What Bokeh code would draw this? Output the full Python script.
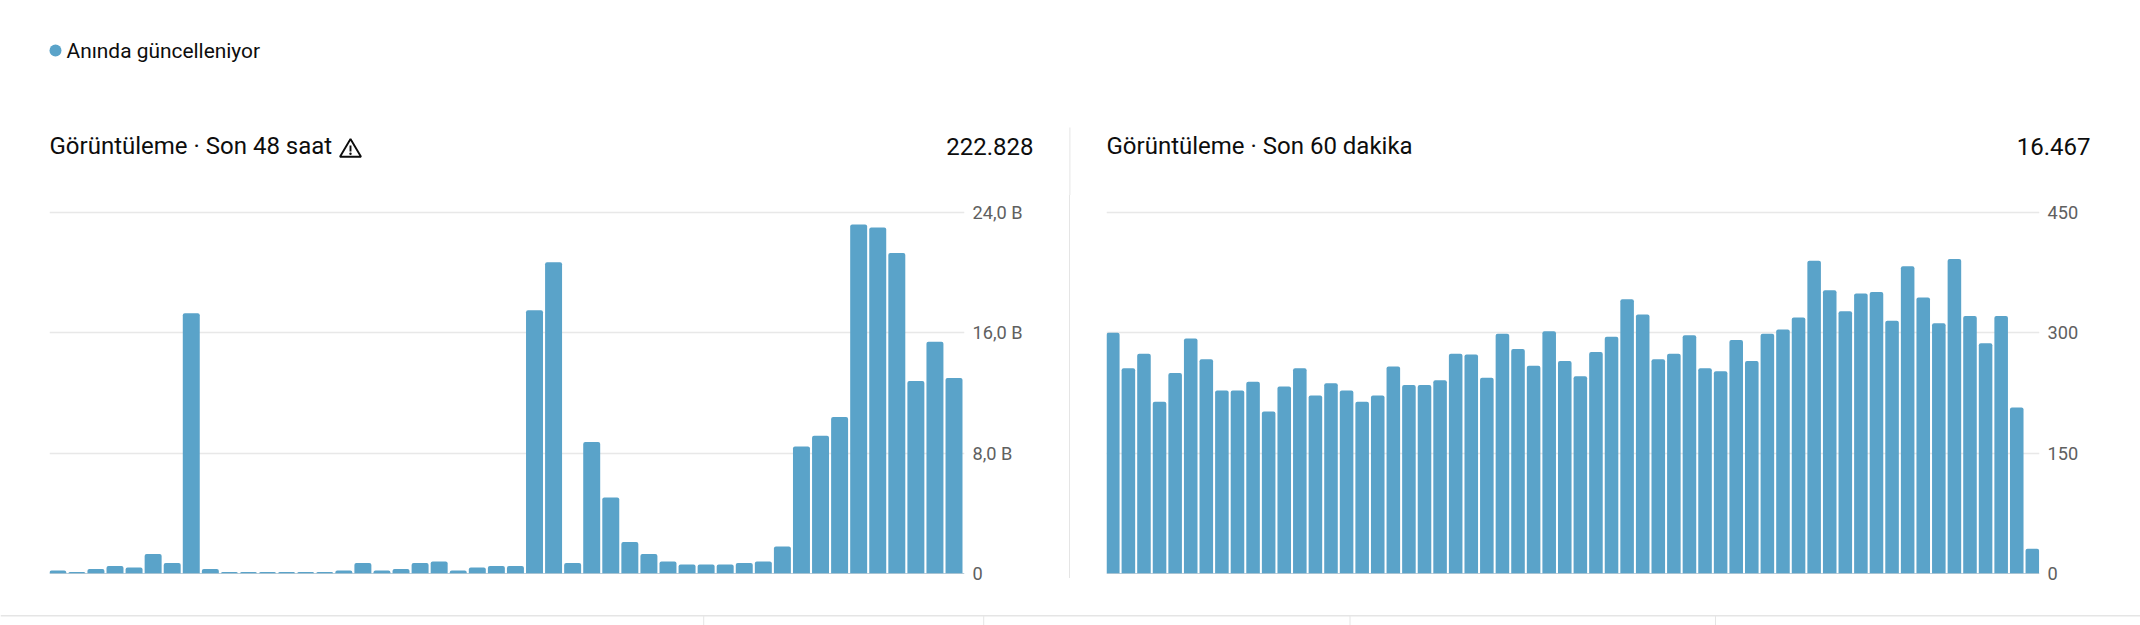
from bokeh.plotting import figure
from bokeh.layouts import row, column
from bokeh.models import Span, Range1d, FixedTicker, Div
from bokeh.core.properties import value
from bokeh.embed import file_html
from bokeh.resources import INLINE

views_48h = [0.2, 0.1, 0.3, 0.5, 0.4, 1.3, 0.7, 17.3, 0.3, 0.1, 0.1, 0.1, 0.1, 0.1, 0.1,
             0.2, 0.7, 0.2, 0.3, 0.7, 0.8, 0.2, 0.4, 0.5, 0.5, 17.5, 20.7, 0.7, 8.75, 5.05, 2.1,
             1.3, 0.8, 0.6, 0.6, 0.6, 0.7, 0.8, 1.8, 8.45, 9.15, 10.4, 23.2, 23.0, 21.3, 12.8, 15.4, 13.0]
views_60m = [300, 256, 274, 214, 250, 293, 267, 228, 228, 239, 202, 233, 256, 222, 237, 228,
             214, 222, 258, 235, 235, 241, 274, 273, 244, 299, 280, 259, 302, 265, 246, 276,
             295, 342, 323, 267, 274, 297, 256, 252, 291, 265, 299, 304, 319, 390, 353, 327,
             349, 351, 315, 383, 344, 312, 392, 321, 287, 321, 207, 31]
ticks_48h = [0, 8, 16, 24]
tick_labels_48h = {0: "0", 8: "8,0 B", 16: "16,0 B", 24: "24,0 B"}
ticks_60m = [0, 150, 300, 450]
tick_labels_60m = {0: "0", 150: "150", 300: "300", 450: "450"}

BLUE = "#5aa3c9"
GRID = "#e8e8e8"
RULE = "#e5e5e5"
INK = "#0d0d0d"
FONT = "Roboto"
W, H = 2140, 625
HEAD_H, FOOT_TOP = 195, 583


def chart(width, left, right, xr, values, barw, ymax, ticks, labels):
    p = figure(width=width, height=FOOT_TOP - HEAD_H, output_backend="svg", toolbar_location=None,
               min_border_left=left, min_border_right=right, min_border_top=15, min_border_bottom=10,
               x_range=Range1d(*xr), y_range=Range1d(0, ymax * 363 / 361), x_axis_location=None,
               y_axis_location="right")
    p.outline_line_color = None
    p.xgrid.visible = False
    p.ygrid.ticker = FixedTicker(ticks=ticks)
    p.ygrid.grid_line_color = GRID
    p.ygrid.grid_line_width = 1.4
    ax = p.yaxis[0]
    ax.ticker = FixedTicker(ticks=ticks)
    ax.major_label_overrides = labels
    ax.axis_line_color = None
    ax.major_tick_line_color = None
    ax.minor_tick_line_color = None
    ax.major_label_text_font = FONT
    ax.major_label_text_font_size = "18.2px"
    ax.major_label_text_color = "#606060"
    ax.major_label_standoff = 2
    p.vbar(x=list(range(len(values))), top=values, bottom=0, width=barw, fill_color=BLUE,
           line_color=None, border_radius=(2, 2, 0, 0))
    p.add_layout(Span(location=0, dimension="width", line_color="#7a9db4", line_width=1))
    return p


def strip(height, top):
    """A full-width band whose frame is measured in page pixels."""
    p = figure(width=W, height=height, output_backend="svg", toolbar_location=None, min_border=0,
               x_range=Range1d(0, W), y_range=Range1d(top + height, top),
               x_axis_location=None, y_axis_location=None)
    p.outline_line_color = None
    p.grid.visible = False
    return p


header = strip(HEAD_H, 0)


def text(x, y, s, size="24px", align="left"):
    header.text(x=[x], y=[y], text=[s], text_font=value(FONT), text_font_size=value(size),
                text_color=INK, text_align=align, text_baseline="middle")


text(66, 50, "Anında güncelleniyor", size="20.9px")
header.scatter(x=[55], y=[50], size=12, marker="circle", fill_color=BLUE, line_color=None)
text(49, 145.5, "Görüntüleme · Son 48 saat")
text(1033, 145.5, "222.828", align="right")
text(1106, 145.5, "Görüntüleme · Son 60 dakika")
text(2090, 145.5, "16.467", align="right")
# warning icon
header.patch(x=[350, 360.5, 339.5], y=[138.5, 156.3, 156.3], fill_color=None, line_color=INK, line_width=1.9)
header.segment(x0=[350], y0=[145], x1=[350], y1=[151], line_color=INK, line_width=1.9)
header.scatter(x=[350], y=[153.3], size=2.4, marker="circle", fill_color=INK, line_color=None)
# top part of the divider between the two charts
header.segment(x0=[1069.4], y0=[127], x1=[1069.4], y1=[HEAD_H], line_color=RULE, line_width=1)

p1 = chart(1069, 49, 105, (-0.435, 47.55), views_48h, 0.89, 24, ticks_48h, tick_labels_48h)
p2 = chart(1070, 36, 101, (-0.404, 59.46), views_60m, 0.87, 450, ticks_60m, tick_labels_60m)
divider = Div(text="", width=1, height=578 - HEAD_H, margin=0, styles={"background-color": RULE})

footer = strip(H - FOOT_TOP, FOOT_TOP)
footer.segment(x0=[0], y0=[615.3], x1=[W], y1=[615.3], line_color=RULE, line_width=1.5)
footer.segment(x0=[703.2, 983.2, 1349.5, 1715], y0=[615] * 4, x1=[703.2, 983.2, 1349.5, 1715], y1=[H] * 4,
               line_color=RULE, line_width=1)

layout = column(header, row(p1, divider, p2, spacing=0), footer, spacing=0)
open("out.html", "w").write(file_html(layout, INLINE))
